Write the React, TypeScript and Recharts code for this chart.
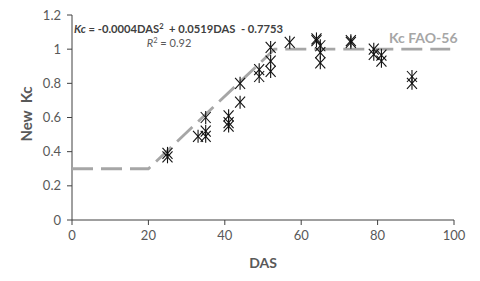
import React from 'react';
import { Scatter, ScatterChart, XAxis, YAxis } from 'recharts';

// FAO-56 reference crop coefficient curve
const faoDas = [0, 20, 53, 99];
const faoKc = [0.3, 0.3, 1.0, 1.0];

// measured crop coefficients
const measuredDas = [25, 25, 33, 35, 35, 35, 41, 41, 41, 44, 44, 49, 49, 52, 52, 52, 57, 64, 64, 65, 65, 65, 73, 73, 79, 79, 81, 81, 89, 89];
const measuredKc = [0.37, 0.39, 0.49, 0.52, 0.49, 0.6, 0.61, 0.57, 0.55, 0.8, 0.69, 0.88, 0.84, 1.01, 0.93, 0.87, 1.04, 1.06, 1.05, 1.02, 0.98, 0.92, 1.04, 1.05, 1.0, 0.97, 0.965, 0.93, 0.84, 0.8];

const xTicks = [0, 20, 40, 60, 80, 100];
const yTicks = [0, 0.2, 0.4, 0.6, 0.8, 1, 1.2];

const faoData = faoDas.map((das, i) => ({ das, kc: faoKc[i] }));
const measuredData = measuredDas.map((das, i) => ({ das, kc: measuredKc[i] }));

const FONT = 'Lato, "Open Sans", sans-serif';
const AXIS = '#404040';
const LABEL = '#595959';

function Asterisk(props: any) {
  const { cx, cy } = props;
  if (cx == null || cy == null) return <g />;
  return (
    <g stroke="#111" strokeWidth={1.1}>
      <line x1={cx - 5} y1={cy - 5.5} x2={cx + 5} y2={cy + 5.5} />
      <line x1={cx - 5} y1={cy + 5.5} x2={cx + 5} y2={cy - 5.5} />
      <line x1={cx} y1={cy - 6.5} x2={cx} y2={cy + 6.5} />
    </g>
  );
}

export default function App() {
  return (
    <div style={{ position: 'absolute', left: 0, top: 0, background: '#fff' }}>
      <ScatterChart
        width={480}
        height={281}
        margin={{ top: 15, right: 26, left: 8, bottom: 31 }}
        style={{ fontFamily: FONT }}
      >
        <XAxis
          type="number"
          dataKey="das"
          domain={[0, 100]}
          ticks={xTicks}
          height={30}
          stroke={AXIS}
          tickSize={5}
          tickMargin={6}
          tick={{ fill: LABEL, fontSize: 13, fontFamily: FONT }}
        />
        <YAxis
          type="number"
          dataKey="kc"
          domain={[0, 1.2]}
          ticks={yTicks}
          width={64}
          stroke={AXIS}
          tickSize={5}
          tickMargin={6}
          tick={{ fill: LABEL, fontSize: 13, fontFamily: FONT }}
        />
        <Scatter
          data={faoData}
          line={{ stroke: '#A6A6A6', strokeWidth: 2.8, strokeDasharray: '21 8' }}
          shape={() => <g />}
          isAnimationActive={false}
        />
        <Scatter data={measuredData} shape={Asterisk} isAnimationActive={false} />
        <text x={263} y={268} textAnchor="middle" fill={LABEL} fontWeight="bold" fontSize={14} fontFamily={FONT}>
          DAS
        </text>
        <text
          x={32}
          y={114}
          textAnchor="middle"
          fill={LABEL}
          fontWeight="bold"
          fontSize={15}
          fontFamily={FONT}
          transform="rotate(-90 32 114)"
          style={{ whiteSpace: 'pre' }}
        >
          New  Kc
        </text>
        <text x={74} y={33} fill="#404040" fontWeight="bold" fontSize={11.2} fontFamily={FONT} style={{ whiteSpace: 'pre' }}>
          <tspan fontStyle="italic">Kc</tspan>
          <tspan> = -0.0004DAS</tspan>
          <tspan fontSize={7.5} dy={-4}>2</tspan>
          <tspan dy={4}>  + 0.0519DAS  - 0.7753</tspan>
        </text>
        <text x={169} y={47} textAnchor="middle" fill={LABEL} fontSize={11} fontFamily={FONT} style={{ whiteSpace: 'pre' }}>
          <tspan fontStyle="italic">R</tspan>
          <tspan fontSize={7.5} dy={-4}>2</tspan>
          <tspan dy={4}> = 0.92</tspan>
        </text>
        <text x={389} y={43} fill="#A6A6A6" fontWeight="bold" fontSize={14} fontFamily={FONT}>
          Kc FAO-56
        </text>
      </ScatterChart>
    </div>
  );
}
